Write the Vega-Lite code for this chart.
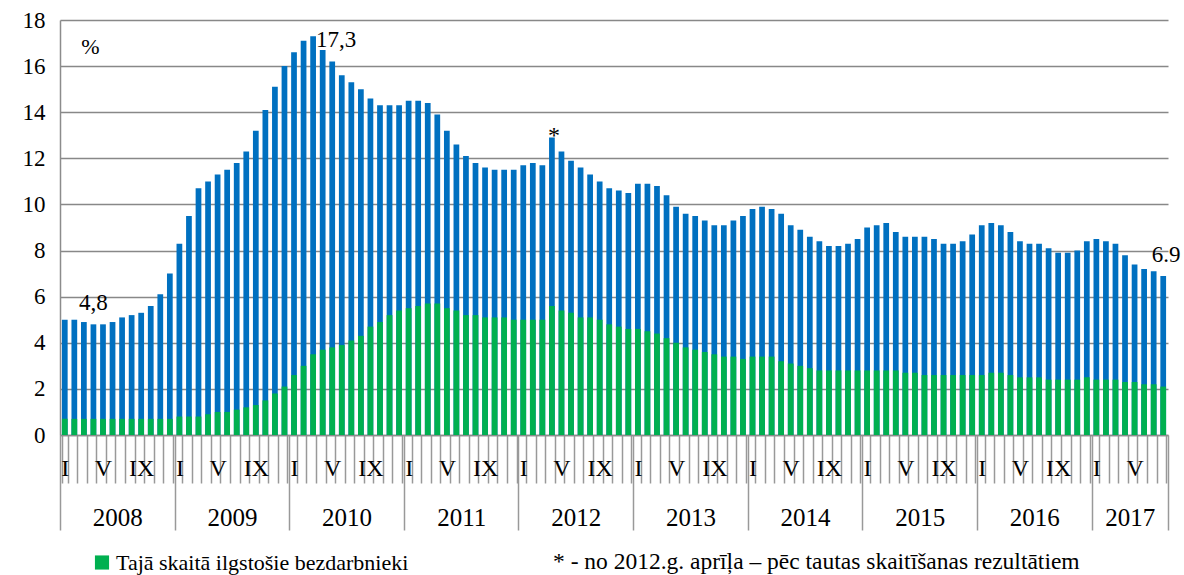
{
  "$schema": "https://vega.github.io/schema/vega-lite/v6.json",
  "width": 1108,
  "height": 415,
  "autosize": "none",
  "padding": {"left": 60, "top": 20, "right": 16, "bottom": 140},
  "config": {
    "font": "Liberation Serif",
    "view": {"stroke": null},
    "axis": {"labelColor": "#000", "labelFont": "Liberation Serif", "titleFont": "Liberation Serif"},
    "legend": {"labelFont": "Liberation Serif"},
    "text": {"font": "Liberation Serif"}
  },
  "datasets": {
    "months": [
      {"t":"2008-01","total":5.0,"long":0.7},{"t":"2008-02","total":5.0,"long":0.7},{"t":"2008-03","total":4.9,"long":0.7},{"t":"2008-04","total":4.8,"long":0.7},{"t":"2008-05","total":4.8,"long":0.7},{"t":"2008-06","total":4.9,"long":0.7},{"t":"2008-07","total":5.1,"long":0.7},{"t":"2008-08","total":5.2,"long":0.7},{"t":"2008-09","total":5.3,"long":0.7},{"t":"2008-10","total":5.6,"long":0.7},{"t":"2008-11","total":6.1,"long":0.7},{"t":"2008-12","total":7.0,"long":0.7},
      {"t":"2009-01","total":8.3,"long":0.8},{"t":"2009-02","total":9.5,"long":0.8},{"t":"2009-03","total":10.7,"long":0.8},{"t":"2009-04","total":11.0,"long":0.9},{"t":"2009-05","total":11.3,"long":1.0},{"t":"2009-06","total":11.5,"long":1.0},{"t":"2009-07","total":11.8,"long":1.1},{"t":"2009-08","total":12.3,"long":1.2},{"t":"2009-09","total":13.2,"long":1.3},{"t":"2009-10","total":14.1,"long":1.5},{"t":"2009-11","total":15.1,"long":1.8},{"t":"2009-12","total":16.0,"long":2.1},
      {"t":"2010-01","total":16.6,"long":2.6},{"t":"2010-02","total":17.1,"long":3.0},{"t":"2010-03","total":17.3,"long":3.5},{"t":"2010-04","total":16.7,"long":3.7},{"t":"2010-05","total":16.2,"long":3.8},{"t":"2010-06","total":15.6,"long":3.9},{"t":"2010-07","total":15.3,"long":4.1},{"t":"2010-08","total":15.0,"long":4.3},{"t":"2010-09","total":14.6,"long":4.7},{"t":"2010-10","total":14.3,"long":4.9},{"t":"2010-11","total":14.3,"long":5.2},{"t":"2010-12","total":14.3,"long":5.4},
      {"t":"2011-01","total":14.5,"long":5.5},{"t":"2011-02","total":14.5,"long":5.6},{"t":"2011-03","total":14.4,"long":5.7},{"t":"2011-04","total":13.9,"long":5.7},{"t":"2011-05","total":13.2,"long":5.5},{"t":"2011-06","total":12.6,"long":5.4},{"t":"2011-07","total":12.1,"long":5.2},{"t":"2011-08","total":11.8,"long":5.2},{"t":"2011-09","total":11.6,"long":5.1},{"t":"2011-10","total":11.5,"long":5.1},{"t":"2011-11","total":11.5,"long":5.1},{"t":"2011-12","total":11.5,"long":5.0},
      {"t":"2012-01","total":11.7,"long":5.0},{"t":"2012-02","total":11.8,"long":5.0},{"t":"2012-03","total":11.7,"long":5.0},{"t":"2012-04","total":12.9,"long":5.6},{"t":"2012-05","total":12.3,"long":5.4},{"t":"2012-06","total":11.9,"long":5.3},{"t":"2012-07","total":11.6,"long":5.1},{"t":"2012-08","total":11.3,"long":5.1},{"t":"2012-09","total":11.0,"long":5.0},{"t":"2012-10","total":10.7,"long":4.8},{"t":"2012-11","total":10.6,"long":4.7},{"t":"2012-12","total":10.5,"long":4.6},
      {"t":"2013-01","total":10.9,"long":4.6},{"t":"2013-02","total":10.9,"long":4.5},{"t":"2013-03","total":10.8,"long":4.4},{"t":"2013-04","total":10.4,"long":4.2},{"t":"2013-05","total":9.9,"long":4.0},{"t":"2013-06","total":9.6,"long":3.8},{"t":"2013-07","total":9.5,"long":3.7},{"t":"2013-08","total":9.3,"long":3.6},{"t":"2013-09","total":9.1,"long":3.5},{"t":"2013-10","total":9.1,"long":3.4},{"t":"2013-11","total":9.3,"long":3.4},{"t":"2013-12","total":9.5,"long":3.3},
      {"t":"2014-01","total":9.8,"long":3.4},{"t":"2014-02","total":9.9,"long":3.4},{"t":"2014-03","total":9.8,"long":3.4},{"t":"2014-04","total":9.6,"long":3.2},{"t":"2014-05","total":9.1,"long":3.1},{"t":"2014-06","total":8.9,"long":3.0},{"t":"2014-07","total":8.6,"long":2.9},{"t":"2014-08","total":8.4,"long":2.8},{"t":"2014-09","total":8.2,"long":2.8},{"t":"2014-10","total":8.2,"long":2.8},{"t":"2014-11","total":8.3,"long":2.8},{"t":"2014-12","total":8.5,"long":2.8},
      {"t":"2015-01","total":9.0,"long":2.8},{"t":"2015-02","total":9.1,"long":2.8},{"t":"2015-03","total":9.2,"long":2.8},{"t":"2015-04","total":8.8,"long":2.8},{"t":"2015-05","total":8.6,"long":2.7},{"t":"2015-06","total":8.6,"long":2.7},{"t":"2015-07","total":8.6,"long":2.6},{"t":"2015-08","total":8.5,"long":2.6},{"t":"2015-09","total":8.3,"long":2.6},{"t":"2015-10","total":8.3,"long":2.6},{"t":"2015-11","total":8.4,"long":2.6},{"t":"2015-12","total":8.7,"long":2.6},
      {"t":"2016-01","total":9.1,"long":2.6},{"t":"2016-02","total":9.2,"long":2.7},{"t":"2016-03","total":9.1,"long":2.7},{"t":"2016-04","total":8.8,"long":2.6},{"t":"2016-05","total":8.4,"long":2.5},{"t":"2016-06","total":8.3,"long":2.5},{"t":"2016-07","total":8.3,"long":2.5},{"t":"2016-08","total":8.1,"long":2.4},{"t":"2016-09","total":7.9,"long":2.4},{"t":"2016-10","total":7.9,"long":2.4},{"t":"2016-11","total":8.0,"long":2.4},{"t":"2016-12","total":8.4,"long":2.5},
      {"t":"2017-01","total":8.5,"long":2.4},{"t":"2017-02","total":8.4,"long":2.4},{"t":"2017-03","total":8.3,"long":2.4},{"t":"2017-04","total":7.8,"long":2.3},{"t":"2017-05","total":7.4,"long":2.3},{"t":"2017-06","total":7.2,"long":2.2},{"t":"2017-07","total":7.1,"long":2.2},{"t":"2017-08","total":6.9,"long":2.1}
    ],
    "notes": [
      {"t":"2008-04","v":4.8,"label":"4,8"},
      {"t":"2010-03","v":17.3,"label":"17,3"},
      {"t":"2012-04","v":12.9,"label":"*"},
      {"t":"2017-08","v":6.9,"label":"6.9"}
    ],
    "yearBounds": [{"b":0},{"b":12},{"b":24},{"b":36},{"b":48},{"b":60},{"b":72},{"b":84},{"b":96},{"b":108},{"b":116}],
    "yearMids": [{"year":"2008","m":6},{"year":"2009","m":18},{"year":"2010","m":30},{"year":"2011","m":42},{"year":"2012","m":54},{"year":"2013","m":66},{"year":"2014","m":78},{"year":"2015","m":90},{"year":"2016","m":102},{"year":"2017","m":112}]
  },
  "layer": [
    {
      "data": {"name": "months"},
      "layer": [
        {
          "mark": {"type": "bar", "color": "#0070C0"},
          "encoding": {
            "x": {
              "field": "t", "type": "ordinal",
              "scale": {"paddingInner": 0.4, "paddingOuter": 0.2},
              "axis": {
                "orient": "bottom",
                "title": null,
                "labelAngle": 0,
                "labelExpr": "substring(datum.value,5,7) == '01' ? 'I' : substring(datum.value,5,7) == '05' ? 'V' : substring(datum.value,5,7) == '09' ? 'IX' : ''",
                "labelFont": "Liberation Serif",
                "labelFontSize": 24,
                "labelBaseline": "middle",
                "labelPadding": -15,
                "labelOverlap": false,
                "tickBand": "extent",
                "tickSize": 48,
                "tickColor": "#999999",
                "tickWidth": 1.5,
                "domainColor": "#8c8c8c",
                "domainWidth": 1.5
              }
            },
            "y": {
              "field": "total", "type": "quantitative",
              "scale": {"domain": [0, 18], "nice": false},
              "axis": {
                "values": [0,2,4,6,8,10,12,14,16,18],
                "ticks": false,
                "labelFont": "Liberation Serif",
                "labelFontSize": 23,
                "labelPadding": 15,
                "gridColor": "#888888",
                "gridWidth": 1.5,
                "domainColor": "#8c8c8c",
                "domainWidth": 1.5,
                "title": "%",
                "titleFont": "Liberation Serif",
                "titleAngle": 0,
                "titleX": 30,
                "titleY": 26,
                "titleAlign": "center",
                "titleBaseline": "middle",
                "titleFontSize": 22,
                "titleFontWeight": "normal",
                "titleColor": "#000"
              }
            }
          }
        },
        {
          "mark": {"type": "bar"},
          "encoding": {
            "x": {"field": "t", "type": "ordinal"},
            "y": {"field": "long", "type": "quantitative"},
            "color": {
              "datum": "Tajā skaitā ilgstošie bezdarbnieki",
              "scale": {
                "domain": ["Tajā skaitā ilgstošie bezdarbnieki", "* - no 2012.g. aprīļa – pēc tautas skaitīšanas rezultātiem"],
                "range": ["#00B050", "transparent"]
              },
              "legend": {
                "title": null,
                "orient": "none",
                "direction": "horizontal",
                "legendX": 31,
                "legendY": 531,
                "symbolType": "square",
                "symbolSize": 200,
                "symbolStrokeWidth": 0,
                "labelFont": "Liberation Serif",
                "labelFontSize": 22,
                "labelColor": "#000",
                "labelLimit": 900,
                "labelOffset": 3,
                "columnPadding": 119,
                "encode": {
                  "labels": {"update": {"fontSize": {"signal": "datum.index == 1 ? 23.5 : 22"}}}
                }
              }
            }
          }
        },
        {
          "data": {"name": "notes"},
          "transform": [{"filter": "datum.t == '2008-04'"}],
          "mark": {"type": "text", "font": "Liberation Serif", "fontSize": 23, "baseline": "alphabetic", "align": "center", "dy": -14},
          "encoding": {"x": {"field": "t", "type": "ordinal"}, "y": {"field": "v", "type": "quantitative"}, "text": {"field": "label"}}
        },
        {
          "data": {"name": "notes"},
          "transform": [{"filter": "datum.t == '2010-03'"}],
          "mark": {"type": "text", "font": "Liberation Serif", "fontSize": 23, "baseline": "alphabetic", "align": "left", "dx": 3, "dy": 11},
          "encoding": {"x": {"field": "t", "type": "ordinal"}, "y": {"field": "v", "type": "quantitative"}, "text": {"field": "label"}}
        },
        {
          "data": {"name": "notes"},
          "transform": [{"filter": "datum.t == '2012-04'"}],
          "mark": {"type": "text", "font": "Liberation Serif", "fontSize": 24, "baseline": "alphabetic", "align": "center", "dx": 2, "dy": 5},
          "encoding": {"x": {"field": "t", "type": "ordinal"}, "y": {"field": "v", "type": "quantitative"}, "text": {"field": "label"}}
        },
        {
          "data": {"name": "notes"},
          "transform": [{"filter": "datum.t == '2017-08'"}],
          "mark": {"type": "text", "font": "Liberation Serif", "fontSize": 23, "baseline": "alphabetic", "align": "center", "dx": 3, "dy": -14},
          "encoding": {"x": {"field": "t", "type": "ordinal"}, "y": {"field": "v", "type": "quantitative"}, "text": {"field": "label"}}
        }
      ]
    },
    {
      "data": {"name": "yearBounds"},
      "mark": {"type": "rule", "opacity": 0},
      "encoding": {
        "x": {
          "field": "b", "type": "quantitative",
          "scale": {"domain": [0, 116], "nice": false, "zero": false},
          "axis": {
            "orient": "bottom",
            "title": null,
            "values": [0,12,24,36,48,60,72,84,96,108,116],
            "labels": false,
            "domain": false,
            "grid": false,
            "tickSize": 95,
            "tickColor": "#999999",
            "tickWidth": 1.5
          }
        }
      }
    },
    {
      "data": {"name": "yearMids"},
      "mark": {"type": "rule", "opacity": 0},
      "encoding": {
        "x": {
          "field": "m", "type": "quantitative",
          "scale": {"domain": [0, 116], "nice": false, "zero": false},
          "axis": {
            "orient": "bottom",
            "title": null,
            "values": [6,18,30,42,54,66,78,90,102,112],
            "labelExpr": "'' + (2008 + floor(datum.value / 12))",
            "labelFont": "Liberation Serif",
            "labelFontSize": 25,
            "labelBaseline": "middle",
            "labelPadding": 82,
            "ticks": false,
            "domain": false,
            "grid": false
          }
        }
      }
    }
  ],
  "resolve": {"scale": {"x": "independent"}, "axis": {"x": "independent"}}
}
